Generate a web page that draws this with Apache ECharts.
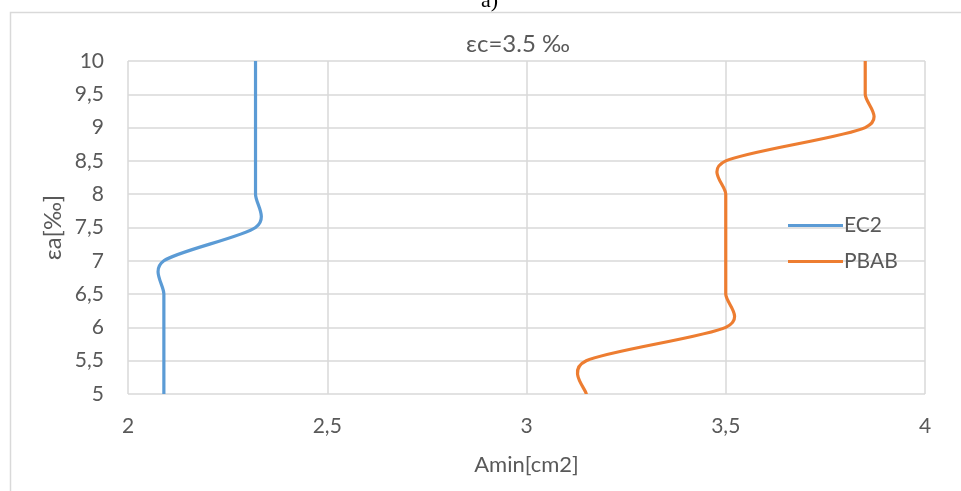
<!DOCTYPE html>
<html>
<head>
<meta charset="utf-8">
<style>
  html, body { margin: 0; padding: 0; background: #fff; }
  #chart { width: 961px; height: 491px; }
</style>
<script src="https://cdn.jsdelivr.net/npm/echarts@6/dist/echarts.min.js"></script>
</head>
<body>
<div id="chart"></div>
<script>
// Strain levels εa [‰] at which the minimum reinforcement was computed
const strainLevels = [5, 5.5, 6, 6.5, 7, 7.5, 8, 8.5, 9, 9.5, 10];
// Amin [cm2] per method
const ec2Values  = [2.09, 2.09, 2.09, 2.09, 2.09, 2.32, 2.32, 2.32, 2.32, 2.32, 2.32];
const pbabValues = [3.15, 3.15, 3.5, 3.5, 3.5, 3.5, 3.5, 3.5, 3.85, 3.85, 3.85];
const seriesNames = ['EC2', 'PBAB'];
const seriesColors = ['#5B9BD5', '#ED7D31'];
const xTicks = { min: 2, max: 4, step: 0.5 };
const yTicks = { min: 5, max: 10, step: 0.5 };

const pairs = (xs) => xs.map((x, i) => [x, strainLevels[i]]);
const fmt = (v) => String(v).replace('.', ',');

const font = 'Lato, "Open Sans", sans-serif';
const grey = '#595959';
const gridGrey = '#d9d9d9';

// Smoothed scatter line: cubic Bézier through every point (Catmull-Rom style tangents),
// with points placed by the chart's own coordinate system.
const TENSION = 1 / 7;
function smoothPath(api, data) {
  const p = data.map((d) => api.coord(d));
  let path = 'M' + p[0][0] + ',' + p[0][1];
  for (let i = 0; i < p.length - 1; i++) {
    const p0 = p[Math.max(i - 1, 0)];
    const p1 = p[i];
    const p2 = p[i + 1];
    const p3 = p[Math.min(i + 2, p.length - 1)];
    const c1 = [p1[0] + (p2[0] - p0[0]) * TENSION, p1[1] + (p2[1] - p0[1]) * TENSION];
    const c2 = [p2[0] - (p3[0] - p1[0]) * TENSION, p2[1] - (p3[1] - p1[1]) * TENSION];
    path += ' C' + c1[0] + ',' + c1[1] + ' ' + c2[0] + ',' + c2[1] + ' ' + p2[0] + ',' + p2[1];
  }
  return path;
}

function curveSeries(name, data, color) {
  return {
    name: name,
    type: 'custom',
    data: data,
    encode: { x: 0, y: 1 },
    itemStyle: { color: color },
    clip: false,
    renderItem: function (params, api) {
      if (params.dataIndex !== 0) return null;
      return {
        type: 'path',
        shape: { pathData: smoothPath(api, data) },
        style: { fill: 'none', stroke: color, lineWidth: 3.2, lineJoin: 'round', lineCap: 'butt' }
      };
    }
  };
}

const legendIcon = 'path://M0,0 L55,0 L55,3 L0,3 Z';

const chart = echarts.init(document.getElementById('chart'), null, { renderer: 'canvas' });
chart.setOption({
  backgroundColor: '#fff',
  animation: false,
  textStyle: { fontFamily: font },
  title: {
    text: 'εc=3.5 ‰',
    left: 513,
    top: 27,
    textAlign: 'center',
    textStyle: { fontFamily: font, fontSize: 24, fontWeight: 'normal', color: grey }
  },
  graphic: [
    {
      type: 'rect',
      shape: { x: 10.5, y: 12.5, width: 960, height: 500 },
      style: { fill: 'none', stroke: gridGrey, lineWidth: 1.5 },
      silent: true
    },
    {
      type: 'text',
      left: 481,
      top: -10,
      style: { text: 'a)', font: '22px "Liberation Serif", serif', fill: '#000' }
    }
  ],
  grid: { left: 128, right: 36, top: 61, bottom: 97 },
  legend: {
    orient: 'vertical',
    left: 788,
    top: 215,
    padding: 0,
    itemWidth: 55,
    itemHeight: 3,
    itemGap: 15,
    textStyle: { fontFamily: font, fontSize: 21, color: grey, padding: [0, 0, 0, -4] },
    data: seriesNames.map((n, i) => ({ name: n, icon: legendIcon, itemStyle: { color: seriesColors[i] } }))
  },
  xAxis: {
    type: 'value',
    min: xTicks.min,
    max: xTicks.max,
    interval: xTicks.step,
    name: 'Amin[cm2]',
    nameLocation: 'middle',
    nameGap: 60,
    nameMoveOverlap: false,
    nameTextStyle: { fontFamily: font, fontSize: 22, color: grey },
    axisLine: { show: false },
    axisTick: { show: false },
    axisLabel: { margin: 22, fontSize: 21, color: grey, fontFamily: font, formatter: fmt },
    splitLine: { show: true, lineStyle: { color: gridGrey, width: 1.5 } }
  },
  yAxis: {
    type: 'value',
    min: yTicks.min,
    max: yTicks.max,
    interval: yTicks.step,
    name: 'εa[‰]',
    nameLocation: 'middle',
    nameGap: 63,
    nameMoveOverlap: false,
    nameTextStyle: { fontFamily: font, fontSize: 24, color: grey },
    axisLine: { show: false },
    axisTick: { show: false },
    axisLabel: { margin: 24, fontSize: 21, color: grey, fontFamily: font, formatter: fmt },
    splitLine: { show: true, lineStyle: { color: gridGrey, width: 1.5 } }
  },
  series: [
    curveSeries(seriesNames[0], pairs(ec2Values), seriesColors[0]),
    curveSeries(seriesNames[1], pairs(pbabValues), seriesColors[1])
  ]
});
</script>
</body>
</html>
